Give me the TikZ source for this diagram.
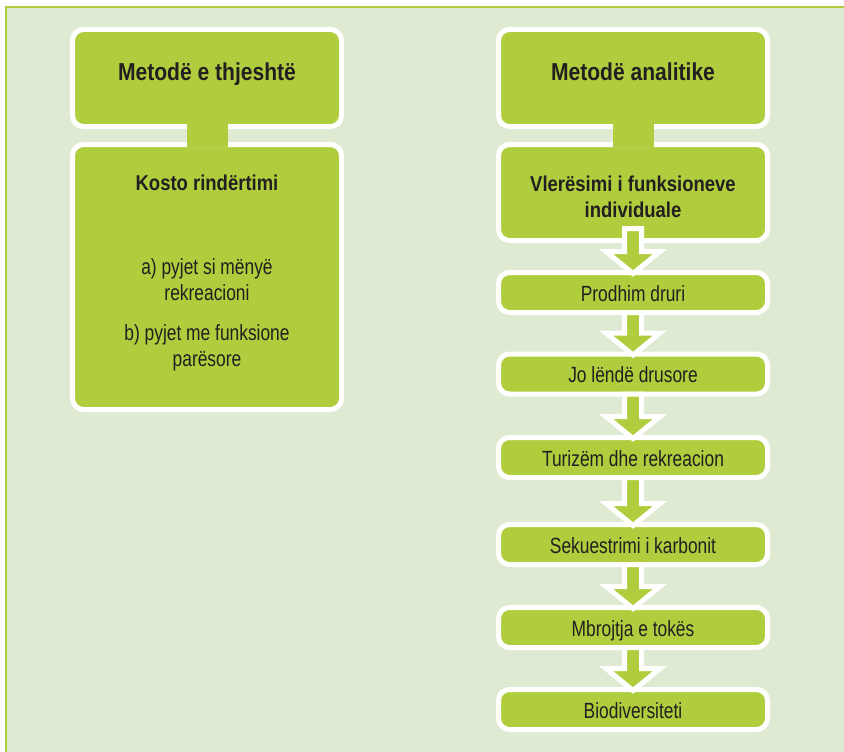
\documentclass[tikz,border=0pt]{standalone}
\usepackage{fontspec}
\setmainfont{Liberation Sans}[FakeStretch=0.79]
\newfontfamily\headfont{Liberation Sans Bold}[FakeStretch=0.86]
\usetikzlibrary{calc}

\definecolor{paper}{RGB}{223,234,211}
\definecolor{leaf}{RGB}{175,205,60}
\definecolor{ink}{RGB}{35,31,32}

\tikzset{
  box/.style={draw=white, line width=5pt, fill=leaf, rounded corners=11pt,
    minimum width=269pt, inner sep=0pt, outer sep=0pt, text=ink},
  item/.style={box, minimum height=40pt, font=\fontsize{22}{26}\selectfont,
    text height=17pt, text depth=0pt},
  bigtitle/.style={font=\headfont\fontsize{24.5}{30}\selectfont, text=ink,
    anchor=base, inner sep=0pt},
  subtitle/.style={font=\headfont\fontsize{21.5}{26}\selectfont, text=ink,
    anchor=base, inner sep=0pt, align=center},
  plain/.style={font=\fontsize{22}{26}\selectfont, text=ink,
    anchor=base, inner sep=0pt, align=center},
  blockarrow/.style={draw=white, line width=5pt, fill=leaf, line join=miter},
}

% block arrow from the bottom of #2 into the top of #3
\newcommand{\flowarrow}[3][0]{%
  \draw[blockarrow] ($(#2.south)+(-8.5,-#1)$) -- ($(#3.north)+(-8.5,-21)$)
    -- ($(#3.north)+(-27,-21)$) -- ($(#3.north)+(0,1)$)
    -- ($(#3.north)+(27,-21)$) -- ($(#3.north)+(8.5,-21)$)
    -- ($(#2.south)+(8.5,-#1)$) -- cycle;
}

\begin{document}
\begin{tikzpicture}[x=1pt, y=-1pt]
% Frame
\useasboundingbox (0,0) rectangle (844,752);
\fill[paper] (6,7) rectangle (844,752);
\draw[leaf, line width=2.5pt] (6,752) -- (6,7) -- (844,7);

% Simple method
\node[box, minimum height=97pt] (simple) at (207,78) {};
\node[bigtitle] (simpletitle) at (207,80.7) {Metodë e thjeshtë};
\node[box, minimum height=265pt] (cost) at (207,277) {};
\node[subtitle] (costtitle) at (207,190.7) {Kosto rindërtimi};
\node[plain] (usea) at (207,300) {a) pyjet si mënyë\\rekreacioni};
\node[plain] (useb) at (207,366.7) {b) pyjet me funksione\\parësore};
\fill[leaf] ($(simple.south)+(-20.5,-2.5)$) rectangle ($(cost.north)+(20.5,2.5)$);

% Analytic method
\node[box, minimum height=97pt] (analytic) at (633,78) {};
\node[bigtitle] (analytictitle) at (633,80.7) {Metodë analitike};
\node[box, minimum height=96pt] (single) at (633,192.5) {};
\node[subtitle] (singletitle) at (633,217.3) {Vlerësimi i funksioneve\\individuale};
\fill[leaf] ($(analytic.south)+(-20.5,-2.5)$) rectangle ($(single.north)+(20.5,2.5)$);

% Functions
\node[item] (wood) at (633,292.5) {Prodhim druri};
\node[item] (nonwood) at (633,374) {Jo lëndë drusore};
\node[item] (tourism) at (633,457.5) {Turizëm dhe rekreacion};
\node[item] (carbon) at (633,544.5) {Sekuestrimi i karbonit};
\node[item] (soil) at (633,627.5) {Mbrojtja e tokës};
\node[item] (biodiv) at (633,709.5) {Biodiversiteti};

% Arrows
\flowarrow[12]{single}{wood}
\flowarrow{wood}{nonwood}
\flowarrow{nonwood}{tourism}
\flowarrow{tourism}{carbon}
\flowarrow{carbon}{soil}
\flowarrow{soil}{biodiv}
\end{tikzpicture}
\end{document}
